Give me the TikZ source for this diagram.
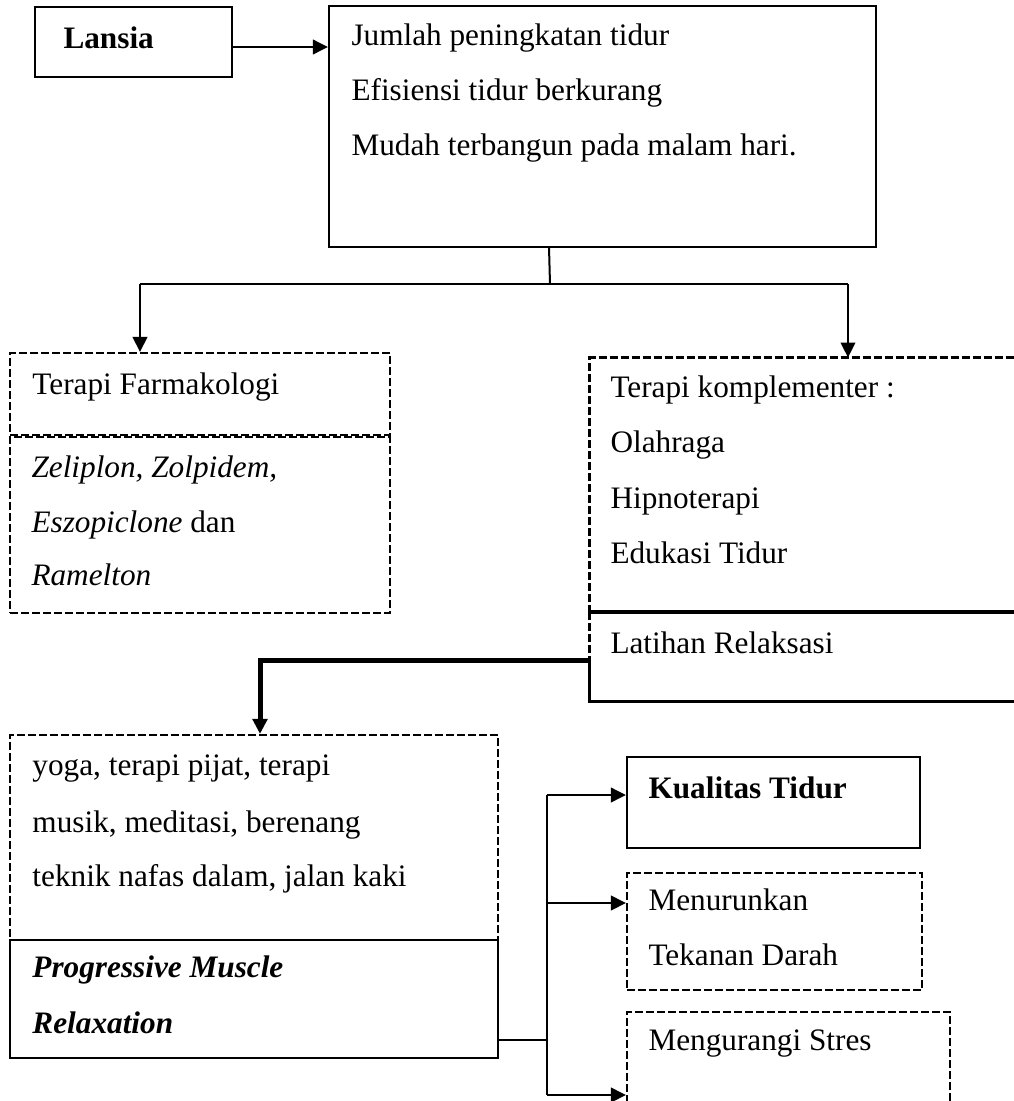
\documentclass[tikz,border=0pt]{standalone}
\usepackage{fontspec}
\setmainfont{Liberation Serif}
\usetikzlibrary{arrows.meta,positioning,calc,fit}

\tikzset{
  boxsolid/.style={draw, line width=0.9pt, inner sep=0pt},
  boxdashed/.style={draw, line width=0.85pt, dash pattern=on 3.2pt off 1.2pt, inner sep=0pt},
  boxplain/.style={inner sep=0pt},
  dashedge/.style={line width=0.85pt, dash pattern=on 3.2pt off 1.2pt},
  arrowline/.style={line width=1pt, -{Triangle[length=6pt,width=5.8pt]}},
  thickarrow/.style={line width=2pt, -{Triangle[length=6pt,width=5.8pt]}},
  txt/.style={anchor=base west, inner sep=0pt, font=\fontsize{12.5}{15}\selectfont}
}

\begin{document}
\begin{tikzpicture}[x=0.4pt,y=-0.4pt]
\clip (0,0) rectangle (1014,1101);
% boxes
\node[boxsolid, fit={(35,7) (232,77)}] (lansia) {};
\node[boxsolid, fit={(329,6) (876,247)}] (ciri) {};
\node[boxdashed, fit={(10,353) (390,435)}] (farmakologi) {};
\node[boxdashed, fit={(10,437) (390,613)}] (obat) {};
\node[boxplain, fit={(590,358) (1030,612)}] (komplementer) {};
\node[boxplain, fit={(590,612) (1030,701)}] (relaksasi) {};
\node[boxdashed, fit={(10,735) (498,940)}] (kegiatan) {};
\node[boxsolid, fit={(10,940) (498,1058)}] (pmr) {};
\node[boxsolid, fit={(627,757) (920,848)}] (kualitas) {};
\node[boxdashed, fit={(627,873) (922,990)}] (tekanan) {};
\node[boxdashed, fit={(627,1012) (950,1130)}] (stres) {};

% open box on the right
\coordinate (relak) at ($(relaksasi.north west)+(0,48)$);
\draw[dashedge] (komplementer.south west) -- (komplementer.north west) -- (komplementer.north east);
\draw[dashedge] (relaksasi.north west) -- (relak);
\draw[line width=1.6pt] (relaksasi.north west) -- (relaksasi.north east);
\draw[line width=1pt] (relak) -- (relaksasi.south west) -- (relaksasi.south east);

% texts
\node[txt, font=\fontsize{12.5}{15}\selectfont\bfseries] (tlansia) at (63,48) {Lansia};
\foreach \y/\t [count=\i] in {45/Jumlah peningkatan tidur, 100/Efisiensi tidur berkurang, 155/Mudah terbangun pada malam hari.}
  \node[txt] (tciri\i) at (351,\y) {\t};
\node[txt] (tfarmakologi) at (32,394) {Terapi Farmakologi};
\node[txt] (tobat1) at (31,477) {\textit{Zeliplon, Zolpidem,}};
\node[txt] (tobat2) at (31,532) {\textit{Eszopiclone} dan};
\node[txt] (tobat3) at (31,585) {\textit{Ramelton}};
\foreach \y/\t [count=\i] in {397/Terapi komplementer :, 452/Olahraga, 508/Hipnoterapi, 563/Edukasi Tidur}
  \node[txt] (tkomp\i) at (610,\y) {\t};
\node[txt] (trelaksasi) at (610,653) {Latihan Relaksasi};
\foreach \y/\t [count=\i] in {775/{yoga, terapi pijat, terapi}, 832/{musik, meditasi, berenang}, 886/{teknik nafas dalam, jalan kaki}}
  \node[txt] (tkeg\i) at (32,\y) {\t};
\node[txt, font=\fontsize{12.5}{15}\selectfont\bfseries\itshape] (tpmr1) at (32,977) {Progressive Muscle};
\node[txt, font=\fontsize{12.5}{15}\selectfont\bfseries\itshape] (tpmr2) at (32,1033) {Relaxation};
\node[txt, font=\fontsize{12.5}{15}\selectfont\bfseries] (tkualitas) at (648,798) {Kualitas Tidur};
\node[txt] (ttekanan1) at (648,910) {Menurunkan};
\node[txt] (ttekanan2) at (648,965) {Tekanan Darah};
\node[txt] (tstres) at (648,1050) {Mengurangi Stres};

% connectors
\coordinate (lansiaout) at ($(lansia.east)+(0,5)$);
\draw[arrowline] (lansiaout) -- (lansiaout -| ciri.west);
\coordinate (split) at (550,284);
\coordinate (leftdrop) at (140,284);
\coordinate (rightdrop) at (848,284);
\draw[line width=0.8pt] (549,247) -- (split);
\draw[line width=0.8pt] (leftdrop) -- (rightdrop);
\draw[arrowline] (leftdrop) -- (leftdrop |- farmakologi.north);
\draw[arrowline] (rightdrop) -- (rightdrop |- komplementer.north);
\coordinate (bend) at (260,660);
\draw[thickarrow] (relaksasi.west |- bend) -- (bend) -- (bend |- kegiatan.north);
\coordinate (hub) at (547,1040);
\coordinate (htop) at (547,795);
\coordinate (hmid) at (547,903);
\coordinate (hbot) at (547,1095);
\draw[line width=0.8pt] (pmr.east |- hub) -- (hub);
\draw[line width=1pt] (htop) -- (hbot);
\draw[arrowline] (htop) -- (htop -| kualitas.west);
\draw[arrowline] (hmid) -- (hmid -| tekanan.west);
\draw[arrowline] (hbot) -- (hbot -| stres.west);
\end{tikzpicture}
\end{document}
